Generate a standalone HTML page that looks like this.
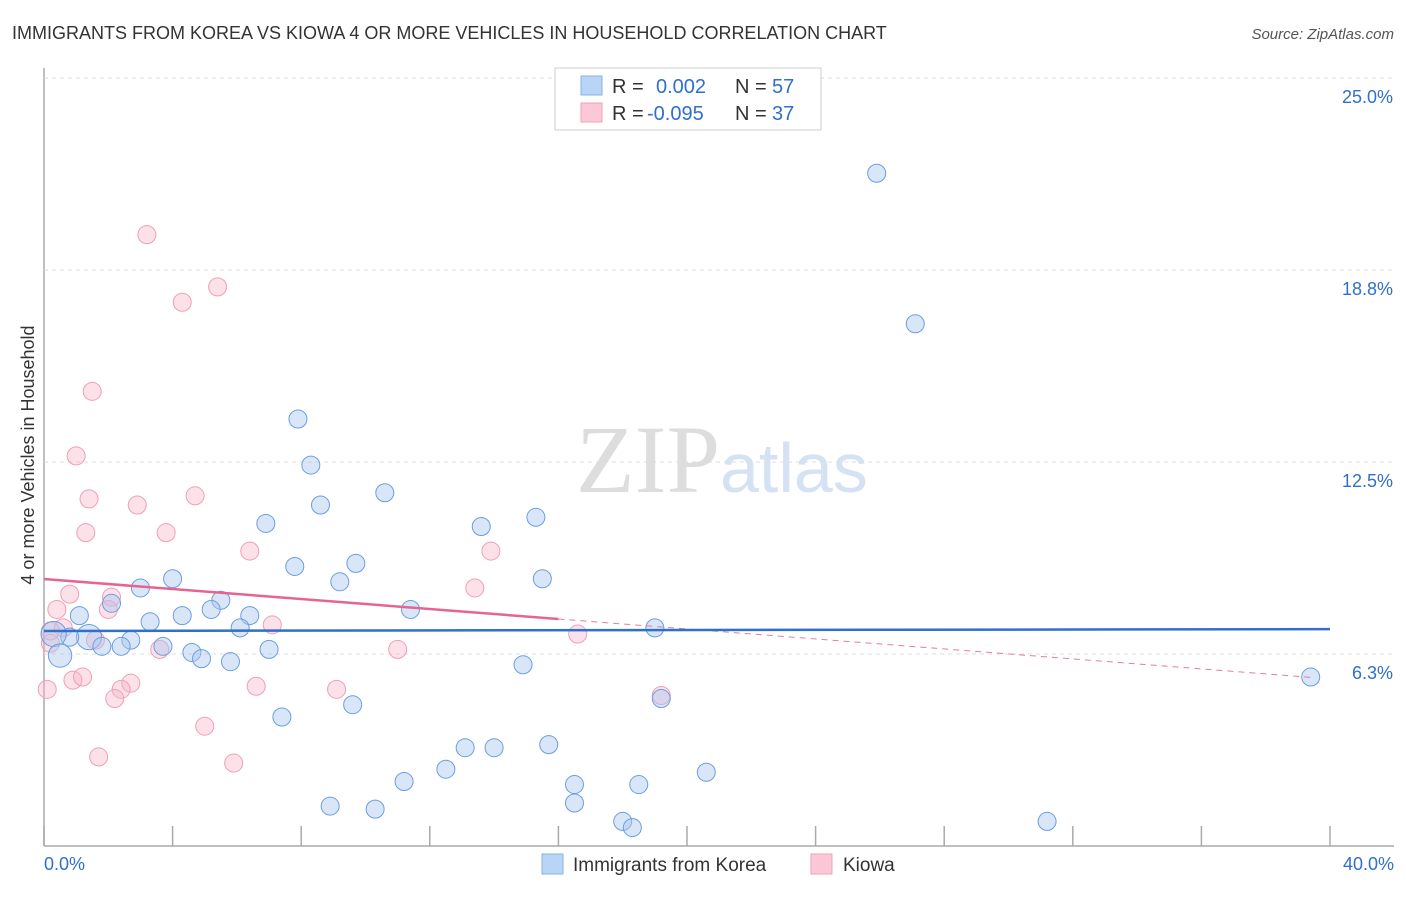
<!DOCTYPE html>
<html><head><meta charset="utf-8"><style>
body{margin:0;background:#fff;font-family:"Liberation Sans",sans-serif}
</style></head><body>
<svg id="c" width="1406" height="892" xmlns="http://www.w3.org/2000/svg">
<text x="12" y="39" font-size="18" fill="#333">IMMIGRANTS FROM KOREA VS KIOWA 4 OR MORE VEHICLES IN HOUSEHOLD CORRELATION CHART</text>
<text x="1394" y="39" font-size="15" fill="#555" font-style="italic" text-anchor="end">Source: ZipAtlas.com</text>
<text transform="translate(34,455) rotate(-90)" font-size="18" fill="#333" text-anchor="middle">4 or more Vehicles in Household</text>
<text x="720" y="492" font-size="96" fill="#ddd" text-anchor="end" font-family="Liberation Serif,serif">ZIP</text>
<text x="720" y="492" font-size="70" fill="#d4e2f4">atlas</text>
<g id="grid"></g><g id="pts"></g><g id="trend"></g>
<g>
<rect x="555" y="68" width="266" height="62" fill="#fff" stroke="#ccc"/>
<rect x="581" y="76" width="21" height="19" fill="#b8d4f6" stroke="#88b0e6"/>
<rect x="581" y="103" width="21" height="19" fill="#fbc8d7" stroke="#f0a0b8"/>
<text x="612" y="93" font-size="20" fill="#333">R = </text><text x="656" y="93" font-size="20" fill="#2f6fce">0.002</text>
<text x="735" y="93" font-size="20" fill="#333">N = </text><text x="772" y="93" font-size="20" fill="#2f6fce">57</text>
<text x="612" y="120" font-size="20" fill="#333">R = </text><text x="647" y="120" font-size="20" fill="#2f6fce">-0.095</text>
<text x="735" y="120" font-size="20" fill="#333">N = </text><text x="772" y="120" font-size="20" fill="#2f6fce">37</text>
</g>
<g>
<rect x="542" y="854" width="21" height="20" fill="#b8d4f6" stroke="#88b0e6"/>
<text x="573" y="871" font-size="19" fill="#333">Immigrants from Korea</text>
<rect x="811" y="854" width="21" height="20" fill="#fbc8d7" stroke="#f0a0b8"/>
<text x="843" y="871" font-size="19" fill="#333">Kiowa</text>
</g>
</svg>
<script>
const yTicks=[6.25,12.5,18.75,25];
const yTickLabels=["6.3%","12.5%","18.8%","25.0%"];
const xTicks=[0,4,8,12,16,20,24,28,32,36,40];
const koreaX=[25.9,27.1,7.9,8.3,10.6,8.6,15.3,13.6,6.9,7.8,9.7,15.5,9.2,4.0,3.0,2.1,5.5,11.4,5.2,6.4,4.3,3.3,1.1,19.0,6.1,1.4,0.8,2.7,0.3,1.8,2.4,3.7,4.6,4.9,7.0,5.8,0.5,14.9,39.4,19.2,9.6,7.4,13.1,14.0,15.7,12.5,20.6,11.2,16.5,18.5,16.5,8.9,10.3,18.0,18.3,31.2];
const koreaY=[21.9,17.0,13.9,12.4,11.5,11.1,10.7,10.4,10.5,9.1,9.2,8.7,8.6,8.7,8.4,7.9,8.0,7.7,7.7,7.5,7.5,7.3,7.5,7.1,7.1,6.8,6.8,6.7,6.9,6.5,6.5,6.5,6.3,6.1,6.4,6.0,6.2,5.9,5.5,4.8,4.6,4.2,3.2,3.2,3.3,2.5,2.4,2.1,2.0,2.0,1.4,1.3,1.2,0.8,0.6,0.8];
const koreaR=[10,10,10,10,10,10,10,10,10,10,10,10,10,10,10,10,10,10,10,10,10,10,10,10,10,14,10,10,14,10,10,10,10,10,10,10,13,10,10,10,10,10,10,10,10,10,10,10,10,10,10,10,10,10,10,10];
const kiowaX=[3.2,5.4,4.3,1.5,1.0,1.4,2.9,4.7,1.3,3.8,6.4,13.9,13.4,0.8,2.1,0.4,2.0,7.1,0.6,16.6,1.6,0.2,3.6,11.0,0.1,0.9,1.2,2.7,2.4,2.2,6.6,9.1,19.2,5.0,1.7,5.9,0.2];
const kiowaY=[19.9,18.2,17.7,14.8,12.7,11.3,11.1,11.4,10.2,10.2,9.6,9.6,8.4,8.2,8.1,7.7,7.7,7.2,7.1,6.9,6.7,6.6,6.4,6.4,5.1,5.4,5.5,5.3,5.1,4.8,5.2,5.1,4.9,3.9,2.9,2.7,7.0];
const koreaTrend=[7.0,7.06];
const kiowaTrend=[8.69,5.44];
const NS="http://www.w3.org/2000/svg";
const X=v=>44+v/40*1286, Y=v=>846-v/6.25*192;
function mk(t,a,p){const e=document.createElementNS(NS,t);for(const k in a)e.setAttribute(k,a[k]);p.appendChild(e);return e;}
const g=document.getElementById('grid');
const ax=mk('line',{x1:44,y1:68,x2:44,y2:846,stroke:'#aaa','stroke-width':1.5},g);


const bx=mk('line',{x1:44,y1:846,x2:1394,y2:846,stroke:'#aaa','stroke-width':1.5},g);


yTicks.forEach((t,i)=>{
 const l=mk('line',{x1:44,y1:Y(t),x2:1394,y2:Y(t),stroke:'#ddd','stroke-dasharray':'4,4'},g);
 
 
 const tx=mk('text',{x:1393,y:Y(t)+25,'font-size':18,fill:'#2f6fce','text-anchor':'end'},g);tx.textContent=yTickLabels[i];
 
 
});
xTicks.forEach(t=>{
 const l=mk('line',{x1:X(t),y1:826,x2:X(t),y2:846,stroke:'#aaa','stroke-width':1.5},g);
 
 
});
[["0.0%",44,'start'],["40.0%",1394,'end']].forEach(a=>{
 const tx=mk('text',{x:a[1],y:870,'font-size':18,fill:'#2f6fce','text-anchor':a[2]},g);tx.textContent=a[0];
 
 
});
const p=document.getElementById('pts');
kiowaX.forEach((v,i)=>{
 const c=mk('circle',{cx:X(v),cy:Y(kiowaY[i]),r:9,fill:'rgba(248,180,200,0.4)',stroke:'#eea0b8','stroke-width':1},p);
 
 
});
koreaX.forEach((v,i)=>{
 const c=mk('circle',{cx:X(v),cy:Y(koreaY[i]),r:koreaR[i]*0.9,fill:'rgba(170,200,240,0.45)',stroke:'#6a9ee0','stroke-width':1},p);
 
 
});
const tr=document.getElementById('trend');
const kx=16;
const ky=kiowaTrend[0]+(kiowaTrend[1]-kiowaTrend[0])*kx/40;
const kd=mk('line',{x1:X(kx),y1:Y(ky),x2:X(39.4),y2:Y(kiowaTrend[0]+(kiowaTrend[1]-kiowaTrend[0])*39.4/40),stroke:'#e87aa0','stroke-width':1,'stroke-dasharray':'6,5'},tr);


const ks=mk('line',{x1:X(0),y1:Y(kiowaTrend[0]),x2:X(kx),y2:Y(ky),stroke:'#e46592','stroke-width':2.5},tr);


const kl=mk('line',{x1:X(0),y1:Y(koreaTrend[0]),x2:X(40),y2:Y(koreaTrend[1]),stroke:'#2f6fce','stroke-width':2.5},tr);


</script>
</body></html>
